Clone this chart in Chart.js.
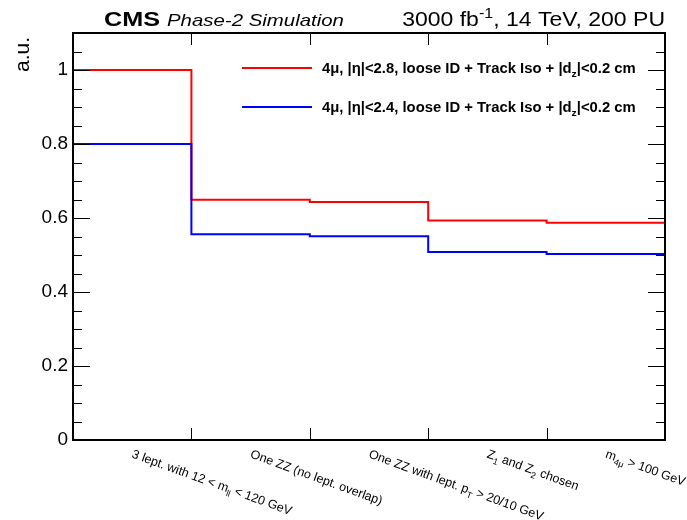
<!DOCTYPE html>
<html>
<head>
<meta charset="utf-8">
<script src="https://cdn.jsdelivr.net/npm/chart.js@4.4.0/dist/chart.umd.min.js"></script>
<style>
  html, body { margin: 0; padding: 0; background: #fff; }
</style>
</head>
<body>
<canvas id="cutflow" width="687" height="520"></canvas>
<script>
// cut-flow bins (ROOT-like markup: _{sub}, ^{sup})
var binEdges = [0, 1, 2, 3, 4, 5];
var binLabels = [
  "3 lept. with 12 < m_{ll} < 120 GeV",
  "One ZZ (no lept. overlap)",
  "One ZZ with lept. p_{T} > 20/10 GeV",
  "Z_{1} and Z_{2} chosen",
  "m_{4\u03bc} > 100 GeV"
];
var eta28 = [1.0, 0.649, 0.643, 0.593, 0.587];
var eta24 = [0.8, 0.556, 0.551, 0.508, 0.503];
var seriesNames = [
  "4\u03bc, |\u03b7|<2.8, loose ID + Track Iso + |d_{z}|<0.2 cm",
  "4\u03bc, |\u03b7|<2.4, loose ID + Track Iso + |d_{z}|<0.2 cm"
];
var yTicks = [0, 0.2, 0.4, 0.6, 0.8, 1.0];

var FONT = "'Liberation Sans', Arial, sans-serif";

// histogram steps: one point per bin edge, last value repeated at the end
function steps(vals) {
  return binEdges.map(function (e, i) {
    return { x: e, y: vals[Math.min(i, vals.length - 1)] };
  });
}

// draws text with _{..} and ^{..}, returns its width
function rich(ctx, str, x, y, size, pre, measureOnly) {
  var parts = str.split(/(_\{[^}]*\}|\^\{[^}]*\})/);
  var cx = x;
  parts.forEach(function (p) {
    if (!p) return;
    var s = size, dy = 0, t = p;
    if (p[0] === "_") { t = p.slice(2, -1); s = size * 0.7; dy = size * 0.3; }
    else if (p[0] === "^") { t = p.slice(2, -1); s = size * 0.7; dy = -size * 0.4; }
    ctx.font = pre + " " + s + "px " + FONT;
    if (!measureOnly) ctx.fillText(t, cx, y + dy);
    cx += ctx.measureText(t).width;
  });
  return cx - x;
}

var decorations = {
  id: "decorations",
  afterDatasetsDraw: function (chart) {
    var ctx = chart.ctx, a = chart.chartArea;
    var xs = chart.scales.x, ys = chart.scales.y;
    ctx.save();
    ctx.strokeStyle = "#000";
    ctx.lineWidth = 1;
    // y ticks, minor every 0.05
    for (var k = 0; k <= 22; k++) {
      var py = Math.round(ys.getPixelForValue(k * 0.05)) + 0.5;
      var len = (k % 4 === 0) ? 17 : 9;
      ctx.beginPath();
      ctx.moveTo(a.left, py); ctx.lineTo(a.left + len, py);
      ctx.moveTo(a.right, py); ctx.lineTo(a.right - len, py);
      ctx.stroke();
    }
    // x ticks at bin edges
    binEdges.slice(1, -1).forEach(function (e) {
      var px = Math.round(xs.getPixelForValue(e)) + 0.5;
      ctx.beginPath();
      ctx.moveTo(px, a.bottom); ctx.lineTo(px, a.bottom - 12);
      ctx.moveTo(px, a.top); ctx.lineTo(px, a.top + 12);
      ctx.stroke();
    });
    // frame
    ctx.lineWidth = 2;
    ctx.strokeRect(a.left, a.top, a.right - a.left, a.bottom - a.top);
    ctx.restore();
  },
  afterDraw: function (chart) {
    var ctx = chart.ctx, a = chart.chartArea;
    var xs = chart.scales.x;
    ctx.save();
    ctx.fillStyle = "#000";
    ctx.textBaseline = "alphabetic";

    // header (ROOT text comes out a bit wide)
    ctx.save();
    ctx.translate(104, 26);
    ctx.scale(1.2, 1);
    ctx.font = "bold 21px " + FONT;
    ctx.fillText("CMS", 0, 0);
    var w = ctx.measureText("CMS ").width;
    ctx.font = "italic 17px " + FONT;
    ctx.fillText("Phase-2 Simulation", w, 0);
    ctx.restore();

    var lumi = "3000 fb^{-1}, 14 TeV, 200 PU";
    var lw = rich(ctx, lumi, 0, 0, 20, "normal", true) * 1.15;
    ctx.save();
    ctx.translate(a.right - lw, 26);
    ctx.scale(1.15, 1);
    rich(ctx, lumi, 0, 0, 20, "normal");
    ctx.restore();

    // y title
    ctx.save();
    ctx.translate(29, 37);
    ctx.rotate(-Math.PI / 2);
    ctx.textAlign = "right";
    ctx.font = "21px " + FONT;
    ctx.fillText("a.u.", 0, 0);
    ctx.restore();

    // bin labels, slanted
    binLabels.forEach(function (lab, i) {
      var cx = xs.getPixelForValue(binEdges[i] + 0.5);
      ctx.save();
      ctx.translate(cx + 3, a.bottom + 6);
      ctx.rotate(20 * Math.PI / 180);
      rich(ctx, lab, 0, 12, 12.5, "normal");
      ctx.restore();
    });

    // legend
    var colors = ["#ff0000", "#0000ff"];
    var rowsY = [68, 107];
    seriesNames.forEach(function (name, i) {
      ctx.strokeStyle = colors[i];
      ctx.lineWidth = 2;
      ctx.beginPath();
      ctx.moveTo(242, rowsY[i]); ctx.lineTo(312, rowsY[i]);
      ctx.stroke();
      ctx.fillStyle = "#000";
      ctx.save();
      ctx.translate(322, rowsY[i] + 5);
      ctx.scale(1.06, 1);
      rich(ctx, name, 0, 0, 14, "bold");
      ctx.restore();
    });
    ctx.restore();
  }
};

new Chart(document.getElementById("cutflow"), {
  type: "line",
  data: {
    datasets: [
      {
        label: seriesNames[0],
        data: steps(eta28),
        borderColor: "#ff0000",
        borderWidth: 2,
        stepped: "before",
        pointRadius: 0,
        fill: false,
        order: 1
      },
      {
        label: seriesNames[1],
        data: steps(eta24),
        borderColor: "#0000ff",
        borderWidth: 2,
        stepped: "before",
        pointRadius: 0,
        fill: false,
        order: 0
      }
    ]
  },
  options: {
    responsive: false,
    animation: false,
    devicePixelRatio: 1,
    layout: { padding: { top: 33, right: 22, left: 0, bottom: 0 } },
    plugins: {
      legend: { display: false },
      tooltip: { enabled: false }
    },
    scales: {
      x: {
        type: "linear",
        min: 0,
        max: 5,
        grid: { display: false, drawTicks: false },
        border: { display: false },
        ticks: { display: false },
        afterFit: function (s) { s.height = 80; }
      },
      y: {
        min: 0,
        max: 1.1,
        grid: { display: false, drawTicks: false },
        border: { display: false },
        afterBuildTicks: function (s) {
          s.ticks = yTicks.map(function (v) { return { value: v }; });
        },
        ticks: {
          color: "#000",
          padding: 5,
          font: { family: FONT, size: 19 },
          callback: function (v) { return String(+v.toFixed(2)); }
        },
        afterFit: function (s) { s.width = 73; }
      }
    }
  },
  plugins: [decorations]
});
</script>
</body>
</html>
